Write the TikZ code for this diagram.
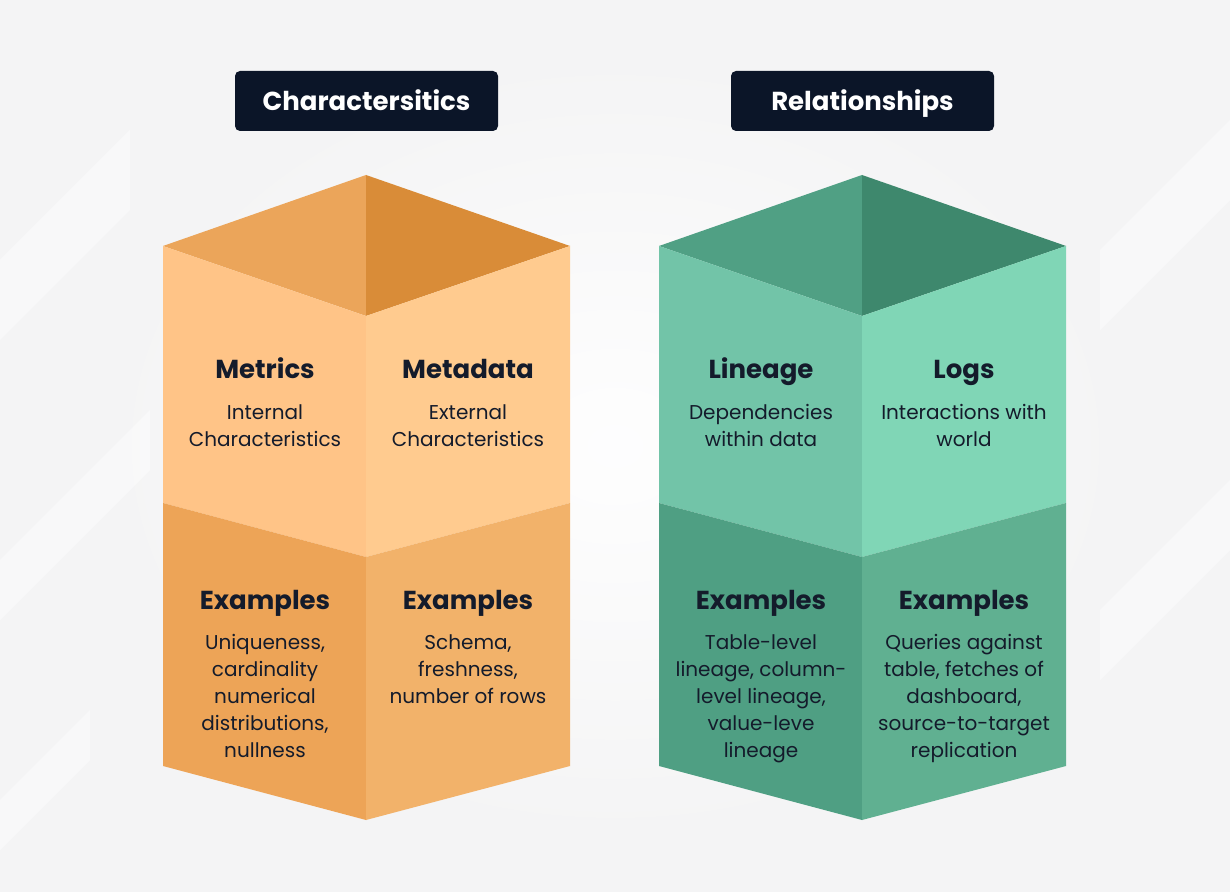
\documentclass[tikz,border=0pt]{standalone}
\usepackage{fontspec}
\setmainfont{Poppins}
\usetikzlibrary{positioning}
\usepackage{xcolor}
\definecolor{navy}{HTML}{0B1528}
\definecolor{ink}{HTML}{141B2B}
\definecolor{bgcol}{HTML}{F4F4F5}
\definecolor{o-topL}{HTML}{EBA55A}
\definecolor{o-topR}{HTML}{D98C38}
\definecolor{o-upL}{HTML}{FFC487}
\definecolor{o-upR}{HTML}{FFCB8F}
\definecolor{o-lowL}{HTML}{EDA457}
\definecolor{o-lowR}{HTML}{F2B26A}
\definecolor{g-topL}{HTML}{50A084}
\definecolor{g-topR}{HTML}{3E886D}
\definecolor{g-upL}{HTML}{72C4A8}
\definecolor{g-upR}{HTML}{80D6B6}
\definecolor{g-lowL}{HTML}{4F9F83}
\definecolor{g-lowR}{HTML}{60B091}

\tikzset{
  title/.style={fill=navy,rounded corners=2.5pt,text=white,font=\bfseries\fontsize{13}{15}\selectfont,minimum width=131.5pt,minimum height=30pt,inner sep=0pt,text height=12pt,text depth=2pt},
  head/.style={font=\bfseries\fontsize{13}{15}\selectfont,text=ink,anchor=base,inner sep=0pt},
  txt/.style={font=\fontsize{10}{13.5}\selectfont,text=ink,align=center,anchor=base,inner sep=0pt},
  band/.style={fill=white,opacity=0.45},
}

\begin{document}
\begin{tikzpicture}[x=0.5pt,y=-0.5pt]
% background
\fill[bgcol] (0,0) rectangle (1230,892);
\shade[inner color=white,outer color=bgcol,opacity=0.9] (615,446) ellipse (560 and 430);
\fill[band] (0,260) -- (130,130) -- (130,210) -- (0,340) -- cycle;
\fill[band] (0,560) -- (150,410) -- (150,470) -- (0,620) -- cycle;
\fill[band] (1230,120) -- (1100,250) -- (1100,330) -- (1230,200) -- cycle;
\fill[band] (1230,480) -- (1100,610) -- (1100,680) -- (1230,550) -- cycle;
\fill[band] (0,800) -- (90,710) -- (90,760) -- (0,850) -- cycle;

% titles
\node[title] (chars) at (366.5,101) {Charactersitics};
\node[title] (rels) at (862.5,101) {Relationships};

% orange prism
\fill[o-topL] (163,246) -- (366,175) -- (366,316) -- cycle;
\fill[o-topR] (366,175) -- (570,246) -- (366,316) -- cycle;
\fill[o-upL] (163,246) -- (366,316) -- (366,557) -- (163,503) -- cycle;
\fill[o-upR] (366,316) -- (570,246) -- (570,503) -- (366,557) -- cycle;
\fill[o-lowL] (163,503) -- (366,557) -- (366,820) -- (163,766) -- cycle;
\fill[o-lowR] (366,557) -- (570,503) -- (570,766) -- (366,820) -- cycle;

% green prism
\fill[g-topL] (659,246) -- (862,175) -- (862,316) -- cycle;
\fill[g-topR] (862,175) -- (1066,246) -- (862,316) -- cycle;
\fill[g-upL] (659,246) -- (862,316) -- (862,557) -- (659,503) -- cycle;
\fill[g-upR] (862,316) -- (1066,246) -- (1066,503) -- (862,557) -- cycle;
\fill[g-lowL] (659,503) -- (862,557) -- (862,820) -- (659,766) -- cycle;
\fill[g-lowR] (862,557) -- (1066,503) -- (1066,766) -- (862,820) -- cycle;

% characteristics texts (txt nodes sit on their last baseline)
\node[head] (metrics) at (265,379) {Metrics};
\node[txt] (metricsT) at (265,447) {Internal\\Characteristics};
\node[head] (metadata) at (468,379) {Metadata};
\node[txt] (metadataT) at (468,447) {External\\Characteristics};
\node[head] (exA) at (265,609) {Examples};
\node[txt] (exAT) at (265,757) {Uniqueness,\\cardinality\\numerical\\distributions,\\nullness};
\node[head] (exB) at (468,609) {Examples};
\node[txt] (exBT) at (468,703) {Schema,\\freshness,\\number of rows};

% relationships texts
\node[head] (lineage) at (761,379) {Lineage};
\node[txt] (lineageT) at (761,447) {Dependencies\\within data};
\node[head] (logs) at (964,379) {Logs};
\node[txt] (logsT) at (964,447) {Interactions with\\world};
\node[head] (exC) at (761,609) {Examples};
\node[txt] (exCT) at (761,757) {Table-level\\lineage, column-\\level lineage,\\value-leve\\lineage};
\node[head] (exD) at (964,609) {Examples};
\node[txt] (exDT) at (964,757) {Queries against\\table, fetches of\\dashboard,\\source-to-target\\replication};
\end{tikzpicture}
\end{document}
